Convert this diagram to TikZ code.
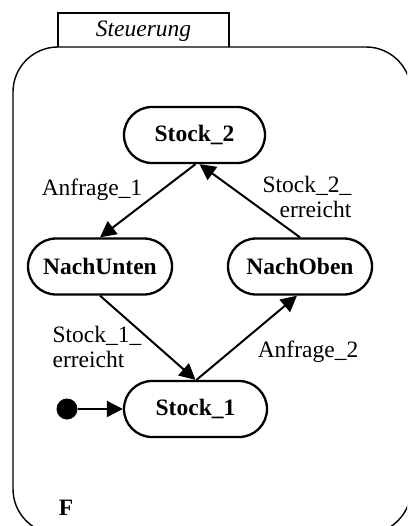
\documentclass[tikz,border=0pt]{standalone}
\usepackage{fontspec}
\setmainfont{Liberation Serif}
\usetikzlibrary{arrows.meta,shapes.misc}

\tikzset{
  state/.style={rounded rectangle, draw, line width=2.3pt, inner sep=0pt,
    minimum height=56pt, font=\fontsize{23.5}{25}\selectfont\bfseries},
  trans/.style={line width=2pt, -{Triangle[length=16pt,width=16pt]}},
  lbl/.style={inner sep=0pt, font=\fontsize{23.5}{25}\selectfont},
  frame/.style={line width=1.4pt},
}

\begin{document}
\begin{tikzpicture}[x=1pt,y=-1pt]
  \clip (0,0) rectangle (407,526);

  % outer state frame and its name tab
  \draw[frame, rounded corners=45pt] (13,47) rectangle (411,534);
  \draw[frame] (58,47) -- (58,13) -- (229,13) -- (229,47);
  \node[lbl, font=\fontsize{23.5}{25}\selectfont\itshape] (name) at (143.5,31) {Steuerung};
  \node[lbl, font=\fontsize{23.5}{25}\selectfont\bfseries] (f) at (66,508) {F};

  % states
  \node[state, minimum width=141pt] (s2) at (194.5,135) {Stock\_2};
  \node[state, minimum width=144pt] (nu) at (100,266.5) {NachUnten};
  \node[state, minimum width=144pt] (no) at (300,266.5) {NachOben};
  \node[state, minimum width=143pt] (s1) at (195.5,409) {Stock\_1};

  % initial state
  \node[circle, fill, inner sep=0pt, minimum size=21pt] (init) at (67,409) {};

  % transitions
  \draw[trans] (init) -- (s1.west);
  \draw[trans] ([xshift=1pt]s2.south) -- (nu.north);
  \draw[trans] (no.north) -- ([xshift=5pt]s2.south);
  \draw[trans] (nu.south) -- (s1.north);
  \draw[trans] ([xshift=1pt]s1.north) -- ([xshift=-3pt]no.south);

  % transition labels
  \node[lbl] (l1) at (92,190) {Anfrage\_1};
  \node[lbl, align=right] (l2) at (307,197) {Stock\_2\_\\erreicht};
  \node[lbl, align=left] (l3) at (97,347) {Stock\_1\_\\erreicht};
  \node[lbl] (l4) at (308,352) {Anfrage\_2};
\end{tikzpicture}
\end{document}
